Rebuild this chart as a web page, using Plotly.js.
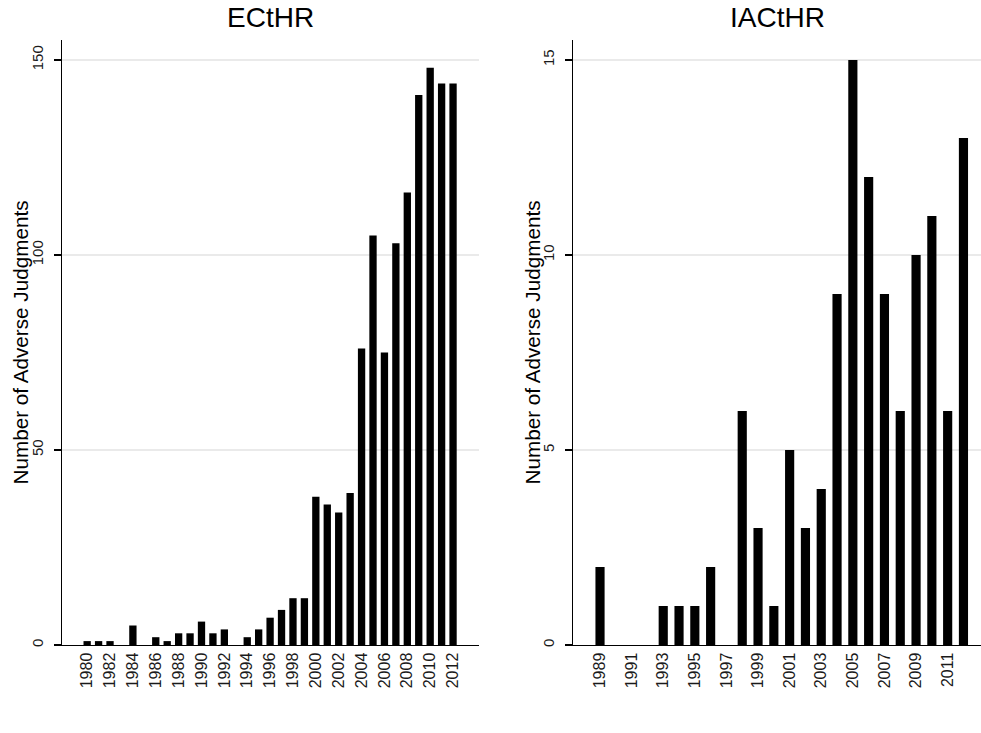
<!DOCTYPE html>
<html>
<head>
<meta charset="utf-8">
<script src="https://cdn.plot.ly/plotly-3.0.1.min.js"></script>
<style>html,body{margin:0;padding:0;background:#fff;}#chart{width:981px;height:733px;}</style>
</head>
<body>
<div id="chart"></div>
<script>
const echrYears = [1980,1981,1982,1983,1984,1985,1986,1987,1988,1989,1990,1991,1992,1993,1994,1995,1996,1997,1998,1999,2000,2001,2002,2003,2004,2005,2006,2007,2008,2009,2010,2011,2012];
const echrJudgments = [1,1,1,0,5,0,2,1,3,3,6,3,4,0,2,4,7,9,12,12,38,36,34,39,76,105,75,103,116,141,148,144,144];
const echrTicks = [1980,1982,1984,1986,1988,1990,1992,1994,1996,1998,2000,2002,2004,2006,2008,2010,2012];

const iachrYears = [1989,1990,1991,1992,1993,1994,1995,1996,1997,1998,1999,2000,2001,2002,2003,2004,2005,2006,2007,2008,2009,2010,2011,2012];
const iachrJudgments = [2,0,0,0,1,1,1,2,0,6,3,1,5,3,4,9,15,12,9,6,10,11,6,13];
const iachrTicks = [1989,1991,1993,1995,1997,1999,2001,2003,2005,2007,2009,2011];

const panelTitles = ["ECtHR", "IACtHR"];
const yTitle = "Number of Adverse Judgments";
const echrYTicks = [0,50,100,150];
const iachrYTicks = [0,5,10,15];

const W = 981, H = 733;
const FONT = "Liberation Sans, Arial, Helvetica, sans-serif";

function xAxis(domainPx, range, ticks) {
  return {
    domain: [domainPx[0]/W, domainPx[1]/W],
    range: range,
    tickmode: "array",
    tickvals: ticks,
    ticktext: ticks.map(String),
    tickangle: -90,
    ticks: "",
    showline: true,
    linecolor: "#000",
    linewidth: 1.3,
    showgrid: false,
    zeroline: false,
    tickfont: {family: FONT, size: 16, color: "#1a1a1a"},
    fixedrange: true
  };
}
function yAxis(anchor, range, ticks) {
  return {
    anchor: anchor,
    domain: [(H-645)/H, (H-40)/H],
    range: range,
    tickmode: "array",
    tickvals: ticks,
    ticktext: ticks.map(String),
    tickangle: -90,
    ticks: "outside",
    ticklen: 7,
    tickwidth: 1.2,
    tickcolor: "#000",
    ticklabelstandoff: 5,
    showline: true,
    linecolor: "#000",
    linewidth: 1.3,
    showgrid: true,
    gridcolor: "#eaeaea",
    gridwidth: 1.2,
    zeroline: false,
    tickfont: {family: FONT, size: 15, color: "#1a1a1a"},
    fixedrange: true
  };
}

const traces = [
  {type: "bar", x: echrYears, y: echrJudgments, width: 0.64, marker: {color: "#000", line: {width: 0}}, xaxis: "x", yaxis: "y", hoverinfo: "x+y"},
  {type: "bar", x: iachrYears, y: iachrJudgments, width: 0.58, marker: {color: "#000", line: {width: 0}}, xaxis: "x2", yaxis: "y2", hoverinfo: "x+y"}
];

const yMid = 1 - ((40 + 645) / 2) / H;
const layout = {
  width: W, height: H,
  margin: {l: 0, r: 0, t: 0, b: 0},
  paper_bgcolor: "#fff",
  plot_bgcolor: "#fff",
  showlegend: false,
  xaxis: xAxis([62, 479], [1977.8, 2014.27], echrTicks),
  yaxis: yAxis("x", [0, 155.13], echrYTicks),
  xaxis2: Object.assign(xAxis([573, 981], [1987.29, 2013.11], iachrTicks), {anchor: "y2"}),
  yaxis2: yAxis("x2", [0, 15.513], iachrYTicks),
  annotations: [
    {text: panelTitles[0], x: (62+479)/2/W, y: 1 - 18/H, xref: "paper", yref: "paper", xanchor: "center", yanchor: "middle", showarrow: false, font: {family: FONT, size: 28, color: "#000"}},
    {text: panelTitles[1], x: (573+981)/2/W, y: 1 - 18/H, xref: "paper", yref: "paper", xanchor: "center", yanchor: "middle", showarrow: false, font: {family: FONT, size: 28, color: "#000"}},
    {text: yTitle, x: 20/W, y: yMid, xref: "paper", yref: "paper", xanchor: "center", yanchor: "middle", textangle: -90, showarrow: false, font: {family: FONT, size: 20.7, color: "#000"}},
    {text: yTitle, x: 532/W, y: yMid, xref: "paper", yref: "paper", xanchor: "center", yanchor: "middle", textangle: -90, showarrow: false, font: {family: FONT, size: 20.7, color: "#000"}}
  ]
};
layout.xaxis.anchor = "y";

Plotly.newPlot("chart", traces, layout, {displayModeBar: false, staticPlot: true});
</script>
</body>
</html>
